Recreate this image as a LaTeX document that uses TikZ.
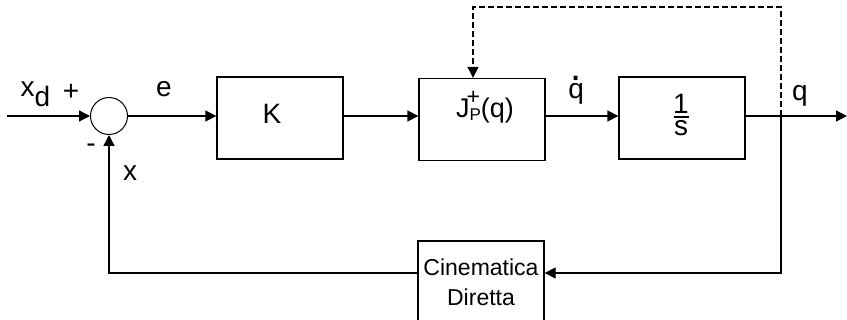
\documentclass[tikz,border=0pt]{standalone}
\usepackage{fontspec}
\setmainfont{Liberation Sans}
\usetikzlibrary{arrows.meta}
\begin{document}
\begin{tikzpicture}[x=1pt,y=-1pt,line width=1.3pt,
  blk/.style={draw,line width=1.3pt,minimum width=126pt,minimum height=82pt,inner sep=0pt},
  arr/.style={-{Triangle[length=11pt,width=11pt]}},
  lbl/.style={font=\fontsize{28}{28}\selectfont,inner sep=0pt},
  small/.style={font=\fontsize{23}{30}\selectfont,align=center,inner sep=0pt}]
\useasboundingbox (0,0) rectangle (847,320);
\clip (0,0) rectangle (847,320);
% blocks
\node[draw,circle,minimum size=37pt,inner sep=0pt,line width=1pt] (sum) at (109,116) {};
\node[blk] (K) at (280,118) {};
\node[blk] (J) at (482,119.5) {};
\node[blk] (S) at (682,118) {};
\node[blk,small] (C) at (481,282) {Cinematica\\Diretta};
% coordinates
\coordinate (in) at (7,116);
\coordinate (out) at (847,116);
\coordinate (br) at (781,116);
\coordinate (top) at (473,7);
\coordinate (fb) at (781,273);
% connectors
\draw[arr] (in) -- (sum.west);
\draw[arr] (sum.east) -- (sum.east -| K.west);
\draw[arr] (K.east |- sum) -- (J.west |- sum);
\draw[arr] (J.east |- sum) -- (S.west |- sum);
\draw[arr] (S.east |- sum) -- (out);
\draw[arr,dashed,dash pattern=on 6pt off 3pt,line width=1.1pt] (br) -- (br |- top) -- (top) -- (top |- J.north);
\draw[arr] (br) -- (fb) -- (fb -| C.east);
\draw[arr] (fb -| C.west) -- (fb -| sum) -- (sum.south);
% labels
\node[lbl,anchor=base west] (xd) at (20,97) {x\raisebox{-10pt}{d}};
\node[lbl] (plus) at (71,92) {+};
\node[lbl,anchor=base] (e) at (164,97) {e};
\node[lbl] (minus) at (91,148) {-};
\node[lbl] (x) at (130,173) {x};
\node[lbl] (Kl) at (272,114) {K};
\node[lbl,anchor=base] (Jl) at (485,118) {\fontsize{27}{27}\selectfont J\makebox[0pt][l]{\hspace{-3pt}\raisebox{13pt}{\fontsize{23}{23}\selectfont +}}\raisebox{-3pt}{\fontsize{17}{17}\selectfont P}(q)};
\node[lbl,anchor=base] (qd) at (576,99) {\rlap{q}\makebox[15.5pt][c]{\raisebox{18pt}{\fontsize{40}{40}\selectfont .}}};
\node[lbl] (sl) at (681,115) {\vbox{\hbox to 15pt{\hss 1\hss}\kern3pt\hrule height 1.3pt\kern3pt\hbox to 15pt{\hss s\hss}}};
\node[lbl,anchor=base] (q) at (800,101) {q};
\end{tikzpicture}
\end{document}
